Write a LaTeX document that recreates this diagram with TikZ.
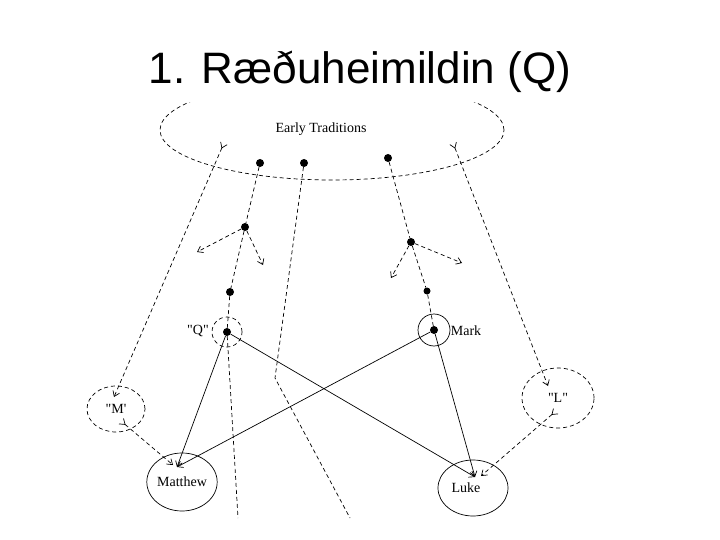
\documentclass[tikz,border=0pt]{standalone}
\usepackage{fontspec}
\setmainfont{Liberation Serif}
\newfontfamily\lblfont{Liberation Serif}
\newfontfamily\titlefont{Liberation Sans}
\usetikzlibrary{arrows.meta,shapes.geometric}
\begin{document}
\begin{tikzpicture}[x=1pt,y=-1pt,
  dot/.style={circle,fill=black,inner sep=0pt,minimum size=8pt},
  dsh/.style={dash pattern=on 4pt off 3pt,line width=0.7pt},
  sol/.style={line width=0.7pt},
  tip/.style={-{Straight Barb[length=5pt,width=7pt]}},
  tips/.style={{Straight Barb[length=5pt,width=7pt,reversed]}-{Straight Barb[length=5pt,width=7pt]}},
  lbl/.style={font=\lblfont\fontsize{14}{16}\selectfont,inner sep=0pt}]
\useasboundingbox (0,0) rectangle (720,540);
\node[font=\titlefont\fontsize{44}{50}\selectfont] (title) at (360,72) {1. Ræðuheimildin (Q)};
\begin{scope}
  \clip (0,103) rectangle (720,540);
  \draw[dsh] (332,130) ellipse [x radius=172pt,y radius=50pt];
\end{scope}
\node[lbl] (et) at (321,129) {Early Traditions};
% dots
\node[dot] (d1) at (260,163) {};
\node[dot] (d2) at (304,163) {};
\node[dot] (d3) at (388,158) {};
\node[dot] (dA) at (245,227) {};
\node[dot] (dB) at (230,292) {};
\node[dot] (dq) at (227,332) {};
\node[dot] (dC) at (411,242) {};
\node[dot,minimum size=7pt] (dD) at (427,291) {};
\node[dot] (dm) at (434,330) {};
% circles
\node[circle,draw,dsh,minimum size=30pt] (qc) at (227,332) {};
\node[circle,draw,sol,minimum size=32pt] (mc) at (434,330) {};
\node[lbl] (ql) at (198,331) {"Q"};
\node[lbl] (ml) at (466,331) {Mark};
% ellipses
\node[ellipse,draw,dsh,minimum width=58pt,minimum height=46pt,lbl] (M) at (116,409) {"M'};
\node[ellipse,draw,dsh,minimum width=72pt,minimum height=60pt,lbl] (L) at (558,398) {"L"};
\node[ellipse,draw,sol,minimum width=68pt,minimum height=58pt,lbl] (Mt) at (182,482) {Matthew};
\node[ellipse,draw,sol,minimum width=70pt,minimum height=56pt,lbl] (Lk) at (473,488) {Luke\hspace*{14pt}};
% coordinates
\coordinate (mtin) at (177,467);
\coordinate (lkin) at (475,477);
\coordinate (ml2) at (173,465);
\coordinate (lk2) at (481,476);
\coordinate (mst) at (121,421);
\coordinate (lst) at (556,411);
\coordinate (etl) at (224,143);
\coordinate (etr) at (453,143);
\coordinate (mtop) at (114,397);
\coordinate (ltop) at (548,386);
\coordinate (a1) at (197,252);
\coordinate (a2) at (263,265);
\coordinate (a3) at (391,278);
\coordinate (a4) at (462,263);
\coordinate (bend) at (275,378);
\coordinate (b2) at (350,518);
\coordinate (b1) at (238,518);
% dashed connectors
\draw[dsh,tips] (etl) -- (mtop);
\draw[dsh,tips] (etr) -- (ltop);
\draw[dsh] (d1) -- (dA) -- (dB) -- (dq);
\draw[dsh,tip] (dA) -- (a1);
\draw[dsh,tip] (dA) -- (a2);
\draw[dsh] (d2) -- (bend) -- (b2);
\draw[dsh] (d3) -- (dC) -- (dD) -- (dm);
\draw[dsh,tip] (dC) -- (a3);
\draw[dsh,tip] (dC) -- (a4);
\draw[dsh] (dq) -- (b1);
\draw[dsh,tips] (mst) -- (ml2);
\draw[dsh,tips] (lst) -- (lk2);
% solid connectors
\draw[sol,tip] (dq) -- (mtin);
\draw[sol,tip] (dq) -- (lkin);
\draw[sol,tip] (dm) -- (mtin);
\draw[sol,tip] (dm) -- (lkin);
\end{tikzpicture}
\end{document}
